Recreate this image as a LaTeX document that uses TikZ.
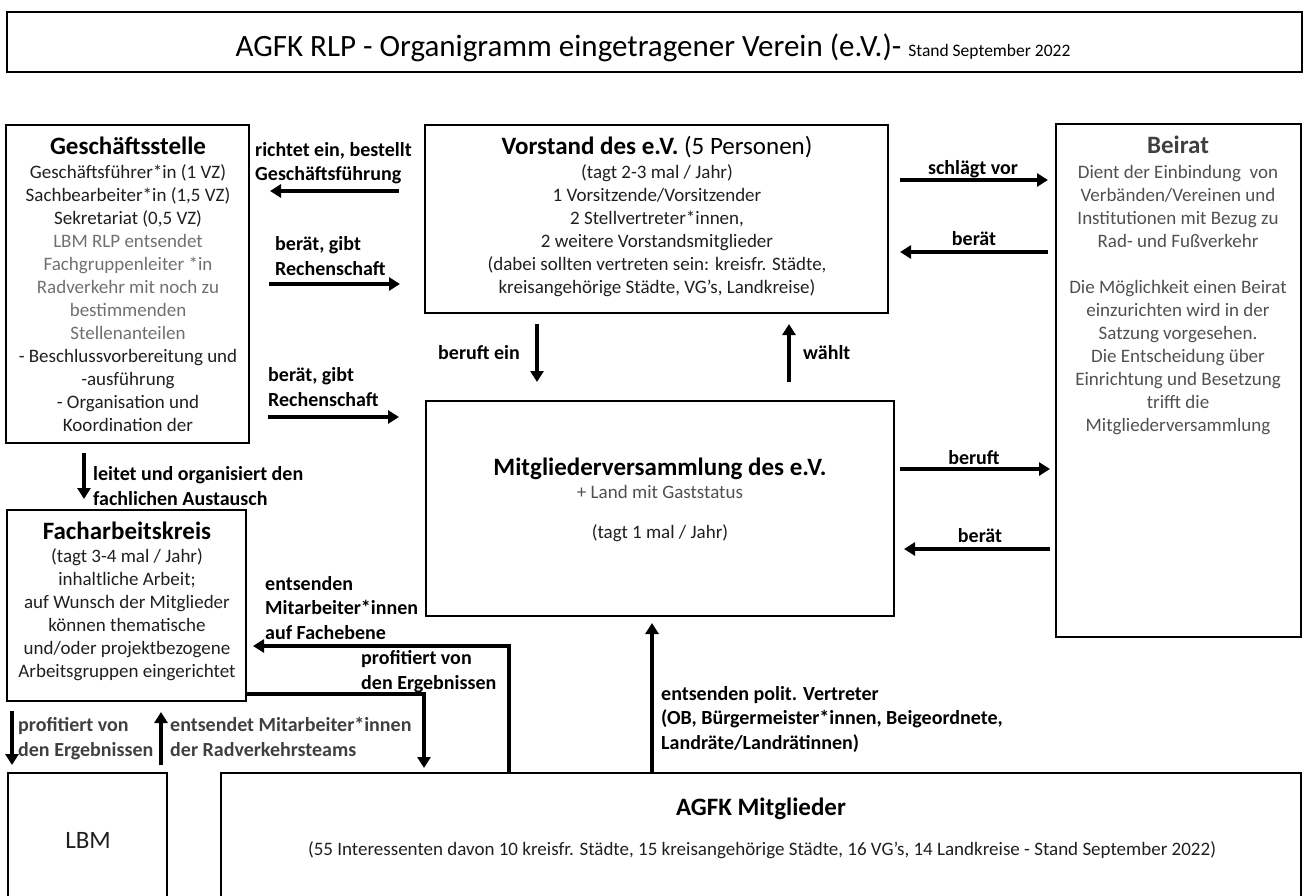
\documentclass[tikz,border=0pt]{standalone}
\usepackage{fontspec}
\setmainfont{Carlito}
\usetikzlibrary{arrows.meta}

\definecolor{dunkel}{HTML}{1F1F1F}
\definecolor{mittel}{HTML}{404040}
\definecolor{grau}{HTML}{505050}
\definecolor{hell}{HTML}{707070}

\newcommand\fbody{\fontsize{19}{23}\selectfont}
\newcommand\fhead{\fontsize{25}{28}\selectfont\bfseries}
\newcommand\flab{\fontsize{20}{24.5}\selectfont\bfseries}

\begin{document}
\begin{tikzpicture}[x=1pt,y=-1pt]
\tikzstyle{box} = [draw, line width=2pt, anchor=north west, inner sep=0pt, outer sep=0pt]
\tikzstyle{head} = [anchor=base, inner sep=0pt, font=\fhead]
% multi-line texts are placed by the baseline of their last line
\tikzstyle{body} = [anchor=base, inner sep=0pt, align=center, font=\fbody, text=dunkel]
\tikzstyle{lab} = [anchor=base west, inner sep=0pt, align=left, font=\flab]
\tikzstyle{labc} = [anchor=base, inner sep=0pt, font=\flab]
\tikzstyle{arr} = [line width=3.2pt, -{Triangle[length=11pt,width=13pt]}]

\useasboundingbox (0,0) rectangle (1304,896);
\clip (0,0) rectangle (1304,896);

% boxes
\node[box, line width=2.5pt, minimum width=1295pt, minimum height=60pt] (titel) at (7,12) {};
\node[box, minimum width=243pt, minimum height=318pt] (gs) at (6,125) {};
\node[box, minimum width=463pt, minimum height=188pt] (vs) at (425,125) {};
\node[box, minimum width=245pt, minimum height=513pt] (beirat) at (1056,124) {};
\node[box, minimum width=468pt, minimum height=215pt] (mv) at (426,401) {};
\node[box, minimum width=239pt, minimum height=191pt] (fak) at (7,510) {};
\node[box, minimum width=159pt, minimum height=200pt] (lbm) at (8,773) {};
\node[box, minimum width=1080pt, minimum height=200pt] (agfk) at (221,773) {};

% texts
\node[anchor=base, inner sep=0pt, font=\fontsize{31}{34}\selectfont] (titeltext) at (653,57)
  {AGFK RLP - Organigramm eingetragener Verein (e.V.)- {\fontsize{17.5}{20}\selectfont Stand September 2022}};

\node[head] (gshead) at (128,155) {Geschäftsstelle};
\node[body] (gstext) at (128,431) {Geschäftsführer*in (1 VZ)\\Sachbearbeiter*in (1,5 VZ)\\Sekretariat (0,5 VZ)\\
  \textcolor{hell}{LBM RLP entsendet}\\\textcolor{hell}{Fachgruppenleiter *in}\\\textcolor{hell}{Radverkehr mit noch zu}\\
  \textcolor{hell}{bestimmenden}\\\textcolor{hell}{Stellenanteilen}\\- Beschlussvorbereitung und\\-ausführung\\
  - Organisation und\\Koordination der};

\node[head] (vshead) at (657,155) {Vorstand des e.V. {\mdseries(5 Personen)}};
\node[body] (vstext) at (657,293) {(tagt 2-3 mal / Jahr)\\1 Vorsitzende/Vorsitzender\\2 Stellvertreter*innen,\\
  2 weitere Vorstandsmitglieder\\(dabei sollten vertreten sein: kreisfr. Städte,\\kreisangehörige Städte, VG's, Landkreise)};

\node[head, text=mittel] (bhead) at (1178,154) {Beirat};
\node[body, text=grau] (btext) at (1178,431) {Dient der Einbindung\ \ von\\Verbänden/Vereinen und\\Institutionen mit Bezug zu\\
  Rad- und Fußverkehr\\[23pt]Die Möglichkeit einen Beirat\\einzurichten wird in der\\Satzung vorgesehen.\\
  Die Entscheidung über\\Einrichtung und Besetzung\\trifft die\\Mitgliederversammlung};

\node[head] (mvhead) at (660,475) {Mitgliederversammlung des e.V.};
\node[body, text=grau] (mvgast) at (660,498) {+ Land mit Gaststatus};
\node[body] (mvtext) at (660,538) {(tagt 1 mal / Jahr)};

\node[head] (fakhead) at (127,539) {Facharbeitskreis};
\node[body] (faktext) at (127,677) {(tagt 3-4 mal / Jahr)\\inhaltliche Arbeit;\\auf Wunsch der Mitglieder\\
  können thematische\\und/oder projektbezogene\\Arbeitsgruppen eingerichtet};

\node[anchor=base, inner sep=0pt, font=\fontsize{25}{28}\selectfont, text=dunkel] (lbmtext) at (88,848) {LBM};
\node[head] (agfkhead) at (761,815) {AGFK Mitglieder};
\node[body] (agfktext) at (762,855) {(55 Interessenten davon 10 kreisfr. Städte, 15 kreisangehörige Städte, 16 VG's, 14 Landkreise - Stand September 2022)};

% arrow ends
\coordinate (r1) at (399,191); \coordinate (l1) at (270,191);
\coordinate (r2) at (269,284); \coordinate (l2) at (400,284);
\coordinate (r3) at (268,417); \coordinate (l3) at (399,417);
\coordinate (r4) at (900,180); \coordinate (l4) at (1048,180);
\coordinate (r5) at (1048,252); \coordinate (l5) at (900,252);
\coordinate (r6) at (900,469); \coordinate (l6) at (1050,469);
\coordinate (r7) at (1050,549); \coordinate (l7) at (904,549);
\coordinate (r8) at (537,324); \coordinate (l8) at (537,382);
\coordinate (r9) at (789,382); \coordinate (l9) at (789,324);
\coordinate (r10) at (84,453); \coordinate (l10) at (84,499);
\coordinate (r11) at (509,773); \coordinate (l11) at (253,646);
\coordinate (r12) at (246,694); \coordinate (k12) at (424,694); \coordinate (l12) at (424,768);
\coordinate (r13) at (12,711); \coordinate (l13) at (12,765);
\coordinate (r14) at (161,765); \coordinate (l14) at (161,712);
\coordinate (r15) at (652,773); \coordinate (l15) at (652,623);

% arrows
\draw[arr] (r1) -- (l1);
\draw[arr] (r2) -- (l2);
\draw[arr] (r3) -- (l3);
\draw[arr] (r4) -- (l4);
\draw[arr] (r5) -- (l5);
\draw[arr] (r6) -- (l6);
\draw[arr] (r7) -- (l7);
\draw[arr] (r8) -- (l8);
\draw[arr] (r9) -- (l9);
\draw[arr] (r10) -- (l10);
\draw[arr] (r11) |- (l11);
\draw[arr] (r12) -- (k12) -- (l12);
\draw[arr] (r13) -- (l13);
\draw[arr] (r14) -- (l14);
\draw[arr] (r15) -- (l15);

% arrow labels
\node[lab] (t1) at (255,181) {richtet ein, bestellt\\Geschäftsführung};
\node[lab] (t2) at (275,275) {berät, gibt\\Rechenschaft};
\node[lab] (t3) at (268,406) {berät, gibt\\Rechenschaft};
\node[labc] (t4) at (973,175) {schlägt vor};
\node[labc] (t5) at (974,246) {berät};
\node[labc] (t6) at (974,464) {beruft};
\node[labc] (t7) at (980,542) {berät};
\node[lab] (t8) at (438,359) {beruft ein};
\node[lab] (t9) at (803,359) {wählt};
\node[lab] (t10) at (93,505) {leitet und organisiert den\\fachlichen Austausch};
\node[lab] (t11) at (265,639) {entsenden\\Mitarbeiter*innen\\auf Fachebene};
\node[lab] (t12) at (361,689) {profitiert von\\den Ergebnissen};
\node[lab, text=mittel] (t13) at (18,756) {profitiert von\\den Ergebnissen};
\node[lab, text=mittel] (t14) at (170,756) {entsendet Mitarbeiter*innen\\der Radverkehrsteams};
\node[lab] (t15) at (661,749) {entsenden polit. Vertreter\\(OB, Bürgermeister*innen, Beigeordnete,\\Landräte/Landrätinnen)};
\end{tikzpicture}
\end{document}
